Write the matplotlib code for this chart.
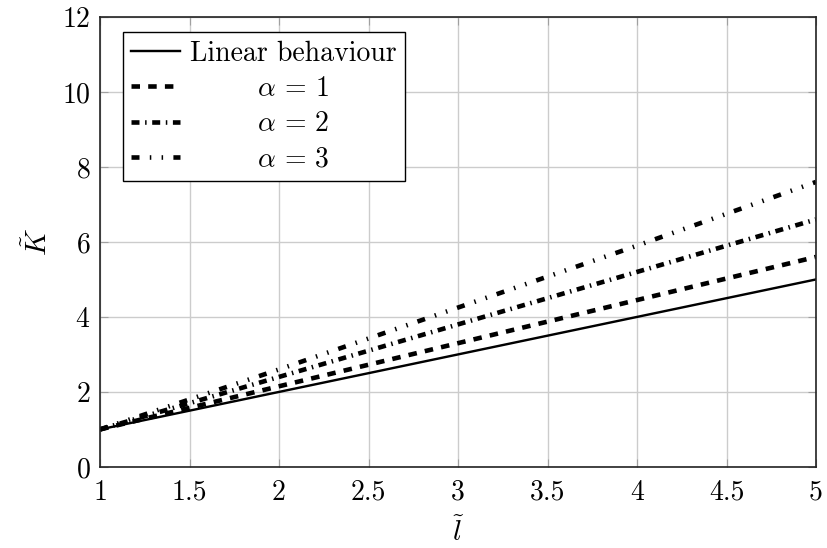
#!/usr/bin/env python3
"""Stiffness ratio vs normalised length for several alpha values."""
import matplotlib

matplotlib.use("Agg")
import matplotlib.pyplot as plt

L_TILDE = [1.0, 2.0, 3.0, 4.0, 5.0]
K_LINEAR = [1.0, 2.0, 3.0, 4.0, 5.0]
K_ALPHA1 = [1.0, 2.15, 3.3, 4.45, 5.6]
K_ALPHA2 = [1.0, 2.4, 3.8, 5.2, 6.6]
K_ALPHA3 = [1.0, 2.6, 4.25, 5.9, 7.6]

X_TICKS = [1, 1.5, 2, 2.5, 3, 3.5, 4, 4.5, 5]
X_TICK_LABELS = ["1", "1.5", "2", "2.5", "3", "3.5", "4", "4.5", "5"]
Y_TICKS = [0, 2, 4, 6, 8, 10, 12]
ALPHA_LABELS = [r"\alpha\,=\,1", r"\alpha\,=\,2", r"\alpha\,=\,3"]
LINEAR_LABEL = "Linear behaviour"

plt.rcParams["font.family"] = "serif"
plt.rcParams["font.serif"] = ["cmr10", "DejaVu Serif"]
plt.rcParams["mathtext.fontset"] = "cm"
plt.rcParams["axes.formatter.use_mathtext"] = True
plt.rcParams["lines.scale_dashes"] = False

PX = 72.0 / 100.0  # points per pixel at dpi 100
FS = 20

fig = plt.figure(figsize=(8.27, 5.48), dpi=100)
ax = fig.add_axes([0.121, 0.148, 0.8657, 0.821])


def text_width(s):
    renderer = fig.canvas.get_renderer()
    t = fig.text(0, 0, s, fontsize=FS)
    w = t.get_window_extent(renderer).width
    t.remove()
    return w


# centre the alpha labels under "Linear behaviour" like the pgfplots legend
w_lin = text_width(LINEAR_LABEL)
unit = text_width(r"$\hspace{1}" + ALPHA_LABELS[0] + "$") - text_width("$" + ALPHA_LABELS[0] + "$")
labels = []
for lab in ALPHA_LABELS:
    pad = (w_lin - text_width("$" + lab + "$")) / 2.0 / unit
    labels.append(r"$\hspace{%.3f}%s$" % (pad, lab))

thick = 4.6 * PX
ax.plot(L_TILDE, K_LINEAR, color="black", linewidth=2.4 * PX, label=LINEAR_LABEL)
ax.plot(L_TILDE, K_ALPHA1, color="black", linewidth=thick,
        dashes=(8.5 * PX, 8.2 * PX), label=labels[0])
ax.plot(L_TILDE, K_ALPHA2, color="black", linewidth=thick,
        dashes=(8 * PX, 5.6 * PX, 1.5 * PX, 5.6 * PX), label=labels[1])
ax.plot(L_TILDE, K_ALPHA3, color="black", linewidth=thick,
        dashes=(8 * PX, 10.3 * PX, 1.5 * PX, 10.3 * PX, 1.5 * PX, 10.3 * PX),
        label=labels[2])

ax.set_xlim(1, 5)
ax.set_ylim(0, 12)
ax.set_xticks(X_TICKS)
ax.set_xticklabels(X_TICK_LABELS)
ax.set_yticks(Y_TICKS)
ax.tick_params(direction="in", length=6, width=0.8, color="#a0a0a0",
               labelsize=FS, top=True, right=True)
ax.tick_params(axis="x", pad=9)
ax.tick_params(axis="y", pad=7)
ax.grid(True, color="#cccccc", linewidth=1.0)
ax.set_axisbelow(True)
for spine in ax.spines.values():
    spine.set_linewidth(1.2)
    spine.set_color("#222222")

ax.set_xlabel(r"$\tilde{l}$", fontsize=FS + 1, labelpad=8)
ax.set_ylabel(r"$\tilde{K}$", fontsize=FS + 1, labelpad=6)

leg = ax.legend(loc="upper left", bbox_to_anchor=(0.032, 0.966), borderaxespad=0,
                fontsize=FS, frameon=True, fancybox=False,
                edgecolor="black", framealpha=1.0,
                handlelength=1.75, handletextpad=0.35, labelspacing=0.32,
                borderpad=0.3)
leg.get_frame().set_linewidth(1.0)

fig.savefig("out.png", dpi=100)
